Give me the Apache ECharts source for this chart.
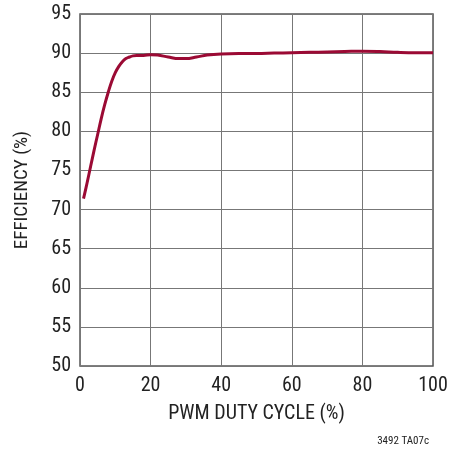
<!DOCTYPE html>
<html><head><meta charset="utf-8">
<script src="https://cdn.jsdelivr.net/npm/echarts@6/dist/echarts.min.js"></script>
<style>html,body{margin:0;padding:0;background:#fff}#c{width:451px;height:452px}</style>
</head><body><div id="c"></div>
<script>
const dutyCycle = [1,2,3,4,5,6,7,8,9,10,11,12,13,14,15,16,18,20,22,25,28,30,33,36,40,45,50,55,60,65,70,75,80,85,90,95,100];
const efficiency = [71.4,73.4,75.5,77.6,79.6,81.6,83.4,85.0,86.4,87.5,88.3,88.9,89.3,89.5,89.65,89.7,89.7,89.8,89.75,89.5,89.3,89.3,89.5,89.75,89.9,89.95,89.95,90.0,90.05,90.1,90.15,90.2,90.25,90.2,90.1,90.05,90.05];
const FONT = '"Liberation Sans Narrow","Roboto Condensed","Liberation Sans",sans-serif';
const chart = echarts.init(document.getElementById('c'));
chart.setOption({
  animation:false,
  grid:{left:80,right:18,top:14,bottom:86,show:true,borderColor:'#555',borderWidth:1.5},
  xAxis:{type:'value',min:0,max:100,interval:20,
    name:'PWM DUTY CYCLE (%)',nameLocation:'middle',nameGap:38,
    nameTextStyle:{fontFamily:FONT,fontSize:20,color:'#222'},
    axisLine:{show:false},axisTick:{show:false},
    axisLabel:{fontFamily:FONT,fontSize:20,color:'#222',margin:10},
    splitLine:{show:true,lineStyle:{color:'#777',width:1}}},
  yAxis:{type:'value',min:50,max:95,interval:5,
    name:'EFFICIENCY (%)',nameLocation:'middle',nameGap:48,
    nameTextStyle:{fontFamily:FONT,fontSize:19,color:'#222'},
    axisLine:{show:false},axisTick:{show:false},
    axisLabel:{fontFamily:FONT,fontSize:20,color:'#222',margin:9},
    splitLine:{show:true,lineStyle:{color:'#777',width:1}}},
  graphic:[{type:'text',right:22,top:436,style:{text:'3492 TA07c',fontFamily:FONT,fontSize:11,fill:'#222'}}],
  series:[{type:'line',data:dutyCycle.map((x,i)=>[x,efficiency[i]]),smooth:0.4,showSymbol:false,
    lineStyle:{color:'#9b0a34',width:3}}]
});
</script></body></html>
